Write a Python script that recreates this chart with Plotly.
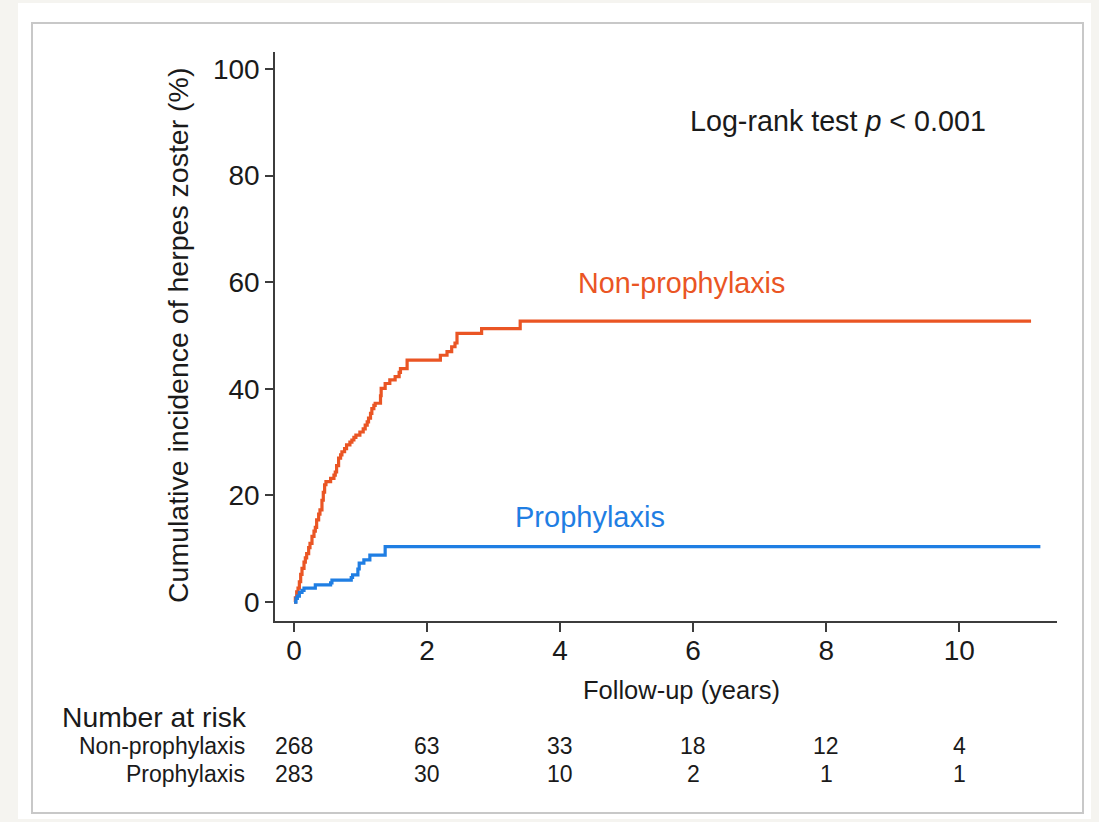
import plotly.graph_objects as go

# Kaplan-Meier cumulative incidence (%) by follow-up time (years)
nonprop_time = [0.00, 0.02, 0.04, 0.06, 0.08, 0.10, 0.12, 0.15, 0.17, 0.19, 0.22, 0.24,
                0.27, 0.30, 0.32, 0.34, 0.37, 0.39, 0.42, 0.44, 0.46, 0.48, 0.55, 0.60,
                0.62, 0.64, 0.67, 0.70, 0.72, 0.76, 0.79, 0.84, 0.87, 0.90, 0.93, 0.99,
                1.04, 1.07, 1.10, 1.12, 1.15, 1.17, 1.20, 1.22, 1.30, 1.31, 1.37, 1.44,
                1.52, 1.58, 1.60, 1.70, 2.20, 2.30, 2.37, 2.42, 2.45, 2.82, 3.40, 11.08]
nonprop_inc = [0.0, 0.8, 1.9, 2.6, 3.8, 5.2, 6.3, 7.5, 8.3, 9.1, 10.2, 11.0,
               12.3, 13.3, 14.0, 15.4, 16.5, 17.3, 19.1, 20.6, 22.0, 22.6, 23.2, 23.8,
               24.4, 25.6, 27.0, 27.6, 28.2, 28.8, 29.5, 30.0, 30.4, 30.9, 31.3, 31.9,
               32.5, 33.2, 33.8, 34.5, 35.4, 36.3, 36.9, 37.3, 38.7, 40.1, 41.0, 41.7,
               42.3, 43.1, 43.8, 45.4, 46.3, 47.0, 47.9, 48.6, 50.4, 51.3, 52.7, 52.7]

prop_time = [0.00, 0.03, 0.05, 0.08, 0.12, 0.15, 0.32, 0.55, 0.57, 0.86, 0.88,
             0.96, 0.98, 1.05, 1.14, 1.37, 11.22]
prop_inc = [0.0, 0.7, 1.1, 1.8, 2.2, 2.6, 3.2, 3.6, 4.1, 4.6, 5.1,
            6.2, 7.3, 7.9, 8.8, 10.4, 10.4]

# Number-at-risk table
risk_times = [0, 2, 4, 6, 8, 10]
nonprop_risk = [268, 63, 33, 18, 12, 4]
prop_risk = [283, 30, 10, 2, 1, 1]

x_ticks = [0, 2, 4, 6, 8, 10]
y_ticks = [0, 20, 40, 60, 80, 100]

RED = "#ea5524"
BLUE = "#1f7ee3"
INK = "#1a1a1a"
AXIS = "#3c3c3c"
FONT = "Liberation Sans, Arial, Helvetica, sans-serif"

W, H = 1099, 822
L, R, T, B = 275, 42, 52, 201
PW, PH = W - L - R, H - T - B


def px(x):
    return (x - L) / PW


def py(y):
    return (H - B - y) / PH


fig = go.Figure()
fig.add_trace(go.Scatter(x=nonprop_time, y=nonprop_inc, mode="lines",
                         line=dict(color=RED, width=3.2, shape="hv"),
                         name="Non-prophylaxis", hoverinfo="skip"))
fig.add_trace(go.Scatter(x=prop_time, y=prop_inc, mode="lines",
                         line=dict(color=BLUE, width=3.2, shape="hv"),
                         name="Prophylaxis", hoverinfo="skip"))

ann = []
# curve labels
ann.append(dict(x=5.82, y=59.8, xref="x", yref="y", text="Non-prophylaxis",
                showarrow=False, font=dict(size=28.7, color=RED, family=FONT)))
ann.append(dict(x=4.45, y=15.9, xref="x", yref="y", text="Prophylaxis",
                showarrow=False, font=dict(size=29, color=BLUE, family=FONT)))
# test result
ann.append(dict(x=px(688), y=py(121), xref="paper", yref="paper",
                text="Log-rank test <i>p</i> &lt; 0.001", xanchor="left", yanchor="middle",
                showarrow=False, font=dict(size=28.7, color=INK, family=FONT)))
# axis titles
ann.append(dict(x=px(681), y=py(690), xref="paper", yref="paper",
                text="Follow-up (years)", xanchor="center", yanchor="middle",
                showarrow=False, font=dict(size=25.5, color=INK, family=FONT)))
ann.append(dict(x=px(178), y=py(336), xref="paper", yref="paper",
                text="Cumulative incidence of herpes zoster (%)", textangle=-90,
                xanchor="center", yanchor="middle",
                showarrow=False, font=dict(size=28.5, color=INK, family=FONT)))
# number at risk
ann.append(dict(x=px(60), y=py(717), xref="paper", yref="paper",
                text="Number at risk", xanchor="left", yanchor="middle",
                showarrow=False, font=dict(size=28.3, color=INK, family=FONT)))
for label, row_y, counts in [("Non-prophylaxis", 746, nonprop_risk),
                             ("Prophylaxis", 774, prop_risk)]:
    ann.append(dict(x=px(247), y=py(row_y), xref="paper", yref="paper",
                    text=label, xanchor="right", yanchor="middle",
                    showarrow=False, font=dict(size=23, color=INK, family=FONT)))
    for t, n in zip(risk_times, counts):
        ann.append(dict(x=t, y=py(row_y), xref="x", yref="paper",
                        text=str(n), xanchor="center", yanchor="middle",
                        showarrow=False, font=dict(size=23, color=INK, family=FONT)))

shapes = [
    # white panel on the page background
    dict(type="rect", xref="paper", yref="paper", layer="below",
         x0=px(18), x1=px(1091), y0=py(819), y1=py(3),
         fillcolor="white", line=dict(width=0)),
    # grey graph frame
    dict(type="rect", xref="paper", yref="paper", layer="below",
         x0=px(32), x1=px(1083), y0=py(813), y1=py(23),
         fillcolor="rgba(0,0,0,0)", line=dict(color="#c8c8c8", width=2)),
]

fig.update_layout(
    width=W, height=H,
    margin=dict(l=L, r=R, t=T, b=B, pad=0),
    paper_bgcolor="#f5f4f0",
    plot_bgcolor="rgba(0,0,0,0)",
    showlegend=False,
    font=dict(family=FONT, color=INK),
    annotations=ann,
    shapes=shapes,
    xaxis=dict(range=[-0.286, 11.47], tickvals=x_ticks, ticks="outside", ticklen=9,
               tickwidth=1.6, tickcolor=AXIS, showline=True, linecolor=AXIS,
               linewidth=1.6, showgrid=False, zeroline=False, ticklabelstandoff=-5,
               tickfont=dict(size=28, color=INK, family=FONT)),
    yaxis=dict(range=[-3.56, 103.2], tickvals=y_ticks, ticks="outside", ticklen=8,
               tickwidth=1.6, tickcolor=AXIS, showline=True, linecolor=AXIS,
               linewidth=1.6, showgrid=False, zeroline=False,
               tickfont=dict(size=28, color=INK, family=FONT)),
)

fig.write_html("out.html")
